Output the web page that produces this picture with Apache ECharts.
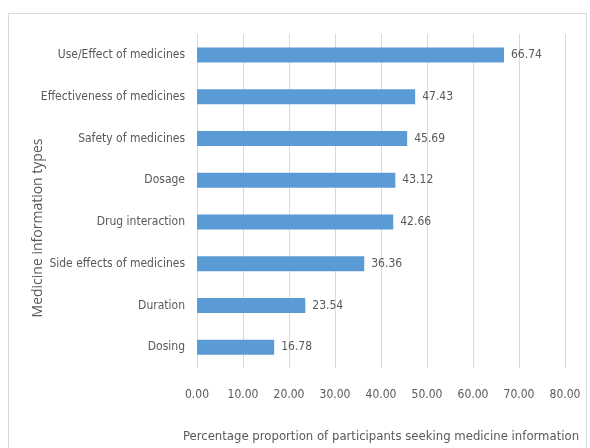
<!DOCTYPE html>
<html lang="en">
<head>
    <meta charset="UTF-8">
    <title>Medicine information types</title>
    <script src="https://cdn.jsdelivr.net/npm/echarts@6/dist/echarts.min.js"></script>
    <style>
        html, body { margin: 0; padding: 0; background: #fff; }
        #chart { width: 590px; height: 448px; }
    </style>
</head>
<body>
    <div id="chart"></div>
    <script>
    // categories bottom to top (ECharts category axis starts from bottom)
    var categories = ['Dosing', 'Duration', 'Side effects of medicines', 'Drug interaction',
        'Dosage', 'Safety of medicines', 'Effectiveness of medicines', 'Use/Effect of medicines'];
    var values = [16.78, 23.54, 36.36, 42.66, 43.12, 45.69, 47.43, 66.74];

    var FONT = '"DejaVu Sans Condensed", "Liberation Sans", sans-serif';
    var TXT = '#595959';

    var chart = echarts.init(document.getElementById('chart'));
    chart.setOption({
        animation: false,
        graphic: [{
            type: 'rect',
            shape: { x: 8.5, y: 13.5, width: 578, height: 440 },
            style: { fill: 'none', stroke: '#d9d9d9', lineWidth: 1 }
        }, {
            // y axis title, sits a bit below the plot middle in the original
            type: 'text',
            x: 38, y: 228,
            rotation: Math.PI / 2,
            style: {
                text: 'Medicine information types',
                fill: TXT,
                font: '14px "Open Sans", sans-serif',
                align: 'center',
                verticalAlign: 'middle'
            }
        }],
        grid: { left: 197, right: 25, top: 34, bottom: 75 },
        xAxis: {
            type: 'value',
            min: 0, max: 80, interval: 10,
            name: 'Percentage proportion of participants seeking medicine information',
            nameLocation: 'middle',
            nameGap: 62,
            nameMoveOverlap: false,
            nameTextStyle: { color: TXT, fontFamily: FONT, fontSize: 13 },
            axisLine: { show: false },
            axisTick: { show: false },
            axisLabel: {
                color: TXT, fontFamily: FONT, fontSize: 12, margin: 21,
                formatter: function (v) { return v.toFixed(2); }
            },
            splitLine: { lineStyle: { color: '#d9d9d9' } }
        },
        yAxis: {
            type: 'category',
            data: categories,
            axisLine: { show: false },
            axisTick: { show: false },
            axisLabel: { color: TXT, fontFamily: FONT, fontSize: 12, margin: 12 }
        },
        series: [{
            type: 'bar',
            data: values,
            barWidth: 15,
            itemStyle: { color: '#5b9bd5' },
            label: {
                show: true,
                position: 'right',
                distance: 7,
                color: TXT,
                fontFamily: FONT,
                fontSize: 12,
                formatter: function (p) { return p.value.toFixed(2); }
            }
        }]
    });
    </script>
</body>
</html>
